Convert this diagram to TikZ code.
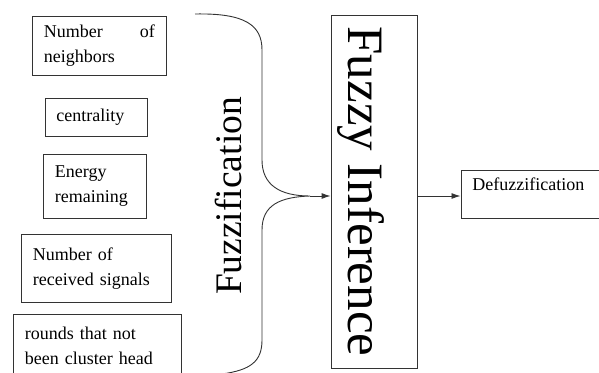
\documentclass[tikz,border=0pt]{standalone}
\usepackage{fontspec}
\setmainfont{Liberation Serif}
\usepackage{graphicx}
\usetikzlibrary{arrows.meta}

\begin{document}
\begin{tikzpicture}[x=1pt, y=-1pt, line width=0.9pt, >={Latex[length=9pt,width=6pt]},
    inbox/.style={draw=black!80, anchor=north west, inner xsep=11.5pt, inner ysep=0pt,
      align=left, font=\fontsize{18}{25}\selectfont}]
  \useasboundingbox (0,0) rectangle (599,372);

  % input boxes
  \node[inbox, text width=111pt, minimum height=59pt, align=justify] (nbr) at (32,16) {Number of neighbors};
  \node[inbox, text width=79.5pt, minimum height=38pt] (cent) at (44.5,97.5) {centrality};
  \node[inbox, text width=80pt, minimum height=64pt] (energy) at (43,154) {Energy\\remaining};
  \node[inbox, text width=127pt, minimum height=68pt] (signals) at (21,234) {Number of\\received signals};
  \node[inbox, text width=145pt, minimum height=62pt] (rounds) at (13,314) {rounds that not\\been cluster head};

  \node[inner sep=0pt, font=\fontsize{37.5}{40}\selectfont] (fuzzif) at (228,196) {\rotatebox{90}{Fuzzification}};

  \node[draw=black!80, inner sep=0pt, minimum width=86pt, minimum height=353pt,
    font=\fontsize{51}{51}\selectfont] (infer) at (374,191.5) {\rotatebox{-90}{Fuzzy Inference}\hspace*{26pt}};
  \node[inbox, text width=115pt, minimum height=48pt, text depth=20pt] (defuzz) at (460.5,170) {Defuzzification};

  % brace
  \coordinate (tip) at (310,196);
  \draw[black!80] (195,14) .. controls (245,13) and (262,25) .. (262,50) -- (262,160)
    .. controls (262,185) and (280,196) .. (tip)
    .. controls (280,197) and (262,205) .. (262,230) -- (262,340)
    .. controls (262,362) and (250,370) .. (222,374);

  \draw[->, black!80] (tip) -- (infer.west |- tip);
  \draw[->, black!80] (infer.east |- tip) -- (defuzz.west |- tip);
\end{tikzpicture}
\end{document}
